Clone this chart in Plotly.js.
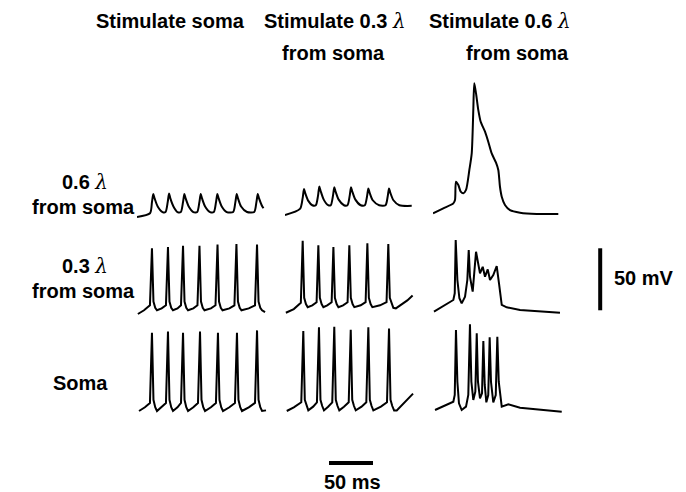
<!DOCTYPE html>
<html>
<head>
<meta charset="utf-8">
<script src="https://cdn.plot.ly/plotly-3.0.1.min.js"></script>
<style>html,body{margin:0;padding:0;background:#fff}</style>
</head>
<body>
<div id="chart" style="width:686px;height:492px"></div>
<script>
// ---- Data: time (ms) and membrane potential (mV) ----
// Column 1: stimulate soma
const t_c1_r1 = [0, 14.8, 17, 18.5, 20, 23.5, 29, 32.4, 34.9, 36.4, 37.9, 41.4, 46, 49.8, 52.3, 53.8, 55.3, 58.8, 64, 68.4, 70.9, 72.4, 73.9, 77.4, 83, 87.3, 89.8, 91.3, 92.8, 96.3, 102, 109.3, 111.8, 113.3, 114.8, 118.3, 125, 133.2, 135.7, 137.2, 138.7, 141.7, 143.7];
const v_c1_r1 = [-70, -67, -58, -51.5, -55, -61.5, -66, -66, -58, -51, -55, -61.5, -66, -66, -58, -51.5, -55, -61.5, -66, -66, -58, -51.5, -55, -61.5, -66, -66, -58, -51.5, -55, -61.5, -66, -66, -58, -51.5, -55, -61.5, -66, -66, -58, -51.5, -55, -60.5, -63];
const t_c1_r2 = [1, 8, 14.7, 17, 18.7, 20.7, 22.7, 28, 32.9, 35.2, 36.9, 38.9, 40.9, 46, 50, 52.3, 54, 56, 58, 64, 68.7, 71, 72.7, 74.7, 76.7, 84, 89.2, 91.5, 93.2, 95.2, 97.2, 105, 110.7, 113, 114.7, 116.7, 118.7, 127, 134.1, 136.4, 138.1, 140.1, 142.1, 145.5];
const v_c1_r2 = [-70, -67, -63, -17, -60, -65, -67, -65.5, -63, -16, -60, -65, -67, -65.5, -63, -15, -60, -65, -67, -65.5, -63, -15, -60, -65, -67, -65.5, -63, -14, -60, -65, -67, -65.5, -63, -13.5, -60, -65, -67, -65.5, -63, -14, -60, -65, -67, -68.5];
const t_c1_r3 = [2.3, 9, 14.7, 17.0, 18.7, 20.7, 22.7, 28, 32.9, 35.2, 36.9, 38.9, 40.9, 46, 50, 52.3, 54, 56, 58, 64, 69.3, 71.6, 73.3, 75.3, 77.3, 84, 89.7, 92, 93.7, 95.7, 97.7, 105, 111.3, 113.6, 115.3, 117.3, 119.3, 127, 134.1, 136.4, 138.1, 140.1, 142.1, 146.6];
const v_c1_r3 = [-70, -67, -63.5, -7, -61, -67, -70, -67, -63.5, -6, -61, -67, -70, -67, -63.5, -7, -61, -67, -70, -67, -63.5, -6, -61, -67, -70, -67, -63.5, -7, -61, -67, -70, -67, -63.5, -7, -61, -67, -70, -67, -63.5, -5, -61, -67, -70, -69.5];
// Column 2: stimulate 0.3 lambda from soma
const t_c2_r1 = [0, 17, 20, 21.6, 23.1, 26.5, 31, 35, 37.5, 39, 40.5, 44, 49, 52, 54.5, 56, 57.5, 61, 67, 71, 73.5, 75, 76.5, 80, 86, 90.7, 93.2, 94.7, 96.2, 99.7, 107, 114.2, 116.7, 118.2, 119.7, 123.2, 130, 144];
const v_c2_r1 = [-68.5, -63.5, -55, -47.5, -51, -57, -60.5, -60.5, -53, -45.5, -49, -56, -60.5, -60.5, -53, -46, -49.5, -56, -60.5, -60.5, -53, -46, -49.5, -56, -60.5, -60.5, -53.5, -47, -50.5, -56.5, -60.5, -60.5, -53.5, -47, -50.5, -56.5, -60.5, -61];
const t_c2_r2 = [1, 10, 18, 20.1, 21.8, 23.8, 25.8, 31, 35.9, 37.9, 39.6, 41.6, 43.6, 48, 53, 55, 56.7, 58.7, 60.7, 66, 71.1, 73.1, 74.8, 76.8, 78.8, 86, 91.6, 93.6, 95.3, 97.3, 99.3, 108, 115.4, 117.4, 119.1, 121.1, 123.1, 126, 139, 145];
const v_c2_r2 = [-69, -66, -61, -11, -57, -62, -64.5, -63, -60.5, -14.5, -57, -62, -64.5, -63, -60.5, -16, -57, -62, -64.5, -63, -60.5, -14.5, -57, -62, -64.5, -63, -60.5, -13, -57, -62, -64.5, -63, -60.5, -13.5, -57, -62, -65, -65.5, -59, -55];
const t_c2_r3 = [2, 10, 18.5, 20.8, 22.5, 24.5, 26.5, 32, 36.3, 38.6, 40.3, 42.3, 44.3, 49, 53.7, 56, 57.7, 59.7, 61.7, 67, 72.4, 74.7, 76.4, 78.4, 80.4, 87, 92.4, 94.7, 96.4, 98.4, 100.4, 109, 115.9, 118.2, 119.9, 121.9, 124, 127, 145.5];
const v_c2_r3 = [-70, -67, -63, -5.5, -61, -66, -69.5, -66.5, -63, -2.5, -61, -66, -69.5, -66.5, -63, -2, -61, -66, -69.5, -66.5, -63, -4.5, -61, -66, -69.5, -66.5, -63, -2.5, -61, -66, -69.5, -66.5, -63, -3.5, -61, -66, -69.5, -69.5, -56];
// Column 3: stimulate 0.6 lambda from soma
const t_c3_r1 = [0, 11.7, 23.1, 25, 26.1, 28.8, 31.5, 34.5, 37.5, 41.3, 44, 45.8, 46.9, 48.9, 51.5, 54.2, 59.1, 62.8, 66.7, 71.6, 74.2, 76.1, 78.1, 81.8, 87.5, 98.9, 117.8, 142.4];
const v_c3_r1 = [-67, -63, -59, -56.3, -41.5, -44.2, -49.6, -50.9, -48.2, -32.1, -18.7, 16.2, 37.8, 29.7, 16.2, 6.8, -1.2, -9.3, -18.7, -26.2, -32.1, -45.6, -53.6, -60.3, -64.4, -66.5, -67.6, -67.6];
const t_c3_r2 = [1.1, 23.1, 24.7, 25.8, 27.7, 30, 32.6, 36.4, 39, 40.6, 42, 45.1, 48.9, 51.5, 53.4, 56.5, 59.1, 62.2, 64.8, 68.5, 72.4, 75, 78.1, 83.8, 98.9, 144.3];
const v_c3_r2 = [-68, -58.7, -53.3, -10.4, -42.6, -57.3, -61.4, -56.1, -42.6, -18.4, -39.9, -52, -19.8, -29.1, -37.2, -31.9, -39.9, -34, -42.6, -38.6, -31.3, -45.3, -62.7, -64.6, -66.8, -69];
const t_c3_r3 = [2.3, 23.1, 24.7, 26.1, 27.7, 29.5, 32.6, 37.5, 40.1, 42, 43.6, 45.8, 48.1, 49.7, 51.1, 53.4, 55.7, 57.2, 58.8, 60.6, 62.8, 64.4, 65.9, 68.5, 71.3, 73.1, 74.7, 78.1, 85.6, 98.9, 146.3];
const v_c3_r3 = [-69.2, -62.5, -57.1, -4.7, -46.4, -63.8, -69.2, -66.5, -57.1, 0, -46.4, -61.1, -54.4, -7.4, -46.4, -59.8, -55.7, -13.6, -49, -63, -57.1, -10.6, -46.4, -63, -57.1, -10.1, -46.4, -66.5, -64.6, -67.3, -70.6];

const colTitles = ['Stimulate soma', 'Stimulate 0.3 λ', 'Stimulate 0.6 λ'];
const rowLabels = ['0.6 λ', 'from soma', '0.3 λ', 'from soma', 'Soma'];
const scaleBarMs = 50;
const scaleBarMv = 50;

// ---- Layout geometry ----
const W = 686, H = 492;
const PX_PER_MS = 0.88, PX_PER_MV = 1.24;
const colX0 = [137, 285, 433];       // px where t = 0
const rowY0 = [217, 314, 411];       // px where V = -70 mV
const V_REF = -70, T_SPAN = 200, PX_BELOW = 70, PX_ABOVE = 150;

function xDom(x0) { return [x0 / W, (x0 + T_SPAN * PX_PER_MS) / W]; }
function yDom(y0) { return [1 - (y0 + PX_BELOW) / H, 1 - (y0 - PX_ABOVE) / H]; }
const yRange = [V_REF - PX_BELOW / PX_PER_MV, V_REF + PX_ABOVE / PX_PER_MV];

const series = [
  [t_c1_r1, v_c1_r1, 'x', 'y', 'spline'], [t_c1_r2, v_c1_r2, 'x', 'y2', 'linear'], [t_c1_r3, v_c1_r3, 'x', 'y3', 'linear'],
  [t_c2_r1, v_c2_r1, 'x2', 'y', 'spline'], [t_c2_r2, v_c2_r2, 'x2', 'y2', 'linear'], [t_c2_r3, v_c2_r3, 'x2', 'y3', 'linear'],
  [t_c3_r1, v_c3_r1, 'x3', 'y', 'spline'], [t_c3_r2, v_c3_r2, 'x3', 'y2', 'linear'], [t_c3_r3, v_c3_r3, 'x3', 'y3', 'linear']
];
const data = series.map(s => ({x: s[0], y: s[1], xaxis: s[2], yaxis: s[3], type: 'scatter', mode: 'lines',
  line: {color: '#000', width: 2, shape: s[4], smoothing: 0.7}, hoverinfo: 'skip'}));

const hidden = {visible: false, showgrid: false, zeroline: false, fixedrange: true};
const layout = {
  width: W, height: H, margin: {l: 0, r: 0, t: 0, b: 0},
  paper_bgcolor: '#fff', plot_bgcolor: 'rgba(0,0,0,0)', showlegend: false,
  xaxis:  Object.assign({domain: xDom(colX0[0]), range: [0, T_SPAN], anchor: 'y3'}, hidden),
  xaxis2: Object.assign({domain: xDom(colX0[1]), range: [0, T_SPAN], anchor: 'y3'}, hidden),
  xaxis3: Object.assign({domain: xDom(colX0[2]), range: [0, T_SPAN], anchor: 'y3'}, hidden),
  yaxis:  Object.assign({domain: yDom(rowY0[0]), range: yRange, anchor: 'x'}, hidden),
  yaxis2: Object.assign({domain: yDom(rowY0[1]), range: yRange, anchor: 'x'}, hidden),
  yaxis3: Object.assign({domain: yDom(rowY0[2]), range: yRange, anchor: 'x'}, hidden),
  shapes: [
    {type: 'line', xref: 'x3', yref: 'y2', x0: 190, x1: 190, y0: -67, y1: -67 + scaleBarMv, line: {color: '#000', width: 4}},
    {type: 'line', xref: 'x2', yref: 'y3', x0: 50, x1: 50 + scaleBarMs, y0: -112, y1: -112, line: {color: '#000', width: 4}}
  ],
  annotations: []
};

const LAM = '<span style="font-family:\'DejaVu Serif\';font-style:italic;font-weight:normal">λ</span>';
const fontT = {family: 'Liberation Sans, Arial, sans-serif', size: 20, color: '#000', weight: 700};
function lab(text, px, py, anchor) {
  layout.annotations.push({text: text.replace('λ', LAM), xref: 'paper', yref: 'paper', x: px / W, y: 1 - py / H,
    xanchor: anchor || 'center', yanchor: 'middle', showarrow: false, font: fontT});
}
lab(colTitles[0], 170, 21);
lab(colTitles[1], 335, 21);
lab('from soma', 333, 53);
lab(colTitles[2], 500, 21);
lab('from soma', 517, 53);
lab(rowLabels[0], 85, 182);
lab(rowLabels[1], 83, 207);
lab(rowLabels[2], 85, 266);
lab(rowLabels[3], 83, 291);
lab(rowLabels[4], 80, 383);
lab(scaleBarMv + ' mV', 612, 278, 'left');
lab(scaleBarMs + ' ms', 352, 482);

Plotly.newPlot('chart', data, layout, {staticPlot: true, displayModeBar: false});
</script>
</body>
</html>
